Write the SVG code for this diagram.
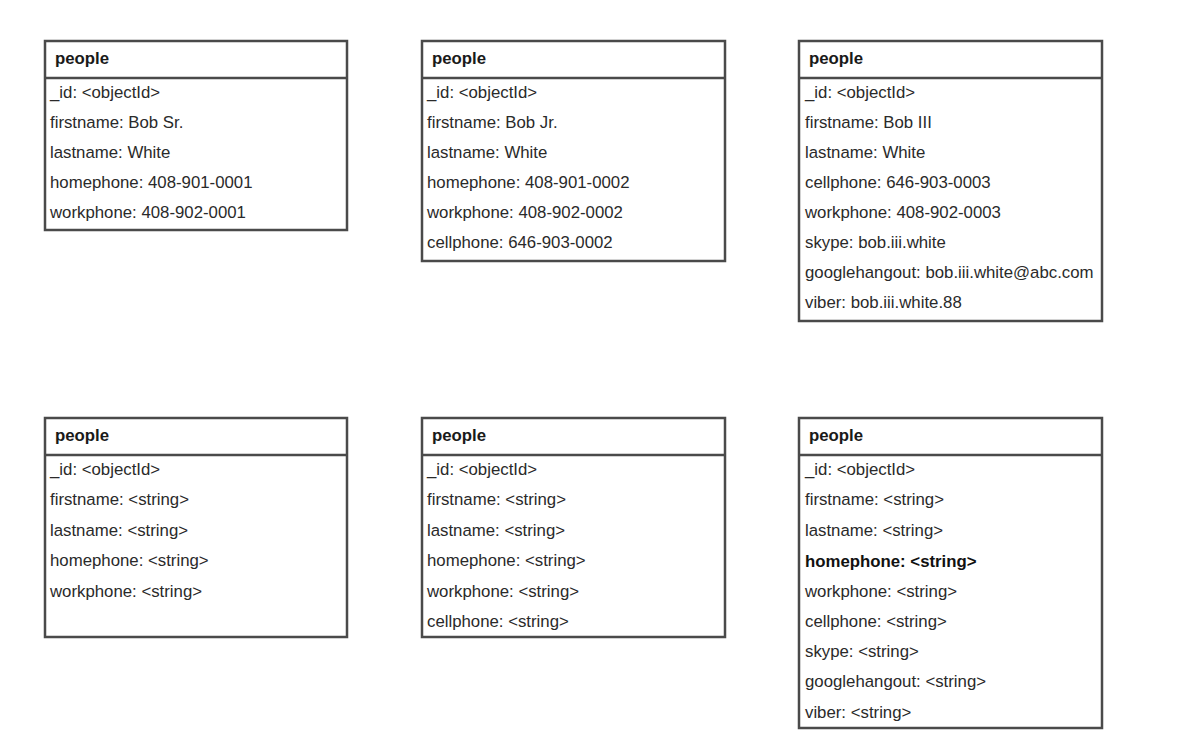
<svg xmlns="http://www.w3.org/2000/svg" width="1178" height="742" viewBox="0 0 1178 742">
<style>
.box{fill:#fff;stroke:#4a4a4a;stroke-width:2.5}
.div{stroke:#4a4a4a;stroke-width:2.5}
.h{font-family:"Liberation Sans",Arial,sans-serif;font-size:16.8px;font-weight:bold;fill:#1a1a1a}
.t{font-family:"Liberation Sans",Arial,sans-serif;font-size:16.8px;fill:#2a2a2a}
.b{font-weight:bold;fill:#111}
</style>
<rect width="1178" height="742" fill="#fff"/>
<g id="people1">
<rect class="box" x="45" y="41" width="302" height="189"/>
<line class="div" x1="45" y1="78" x2="347" y2="78"/>
<text class="h" x="55" y="64">people</text>
<text class="t" x="50" y="98">_id: &lt;objectId&gt;</text>
<text class="t" x="50" y="128">firstname: Bob Sr.</text>
<text class="t" x="50" y="158">lastname: White</text>
<text class="t" x="50" y="188">homephone: 408-901-0001</text>
<text class="t" x="50" y="218">workphone: 408-902-0001</text>
</g>
<g id="people2">
<rect class="box" x="422" y="41" width="303" height="220"/>
<line class="div" x1="422" y1="78" x2="725" y2="78"/>
<text class="h" x="432" y="64">people</text>
<text class="t" x="427" y="98">_id: &lt;objectId&gt;</text>
<text class="t" x="427" y="128">firstname: Bob Jr.</text>
<text class="t" x="427" y="158">lastname: White</text>
<text class="t" x="427" y="188">homephone: 408-901-0002</text>
<text class="t" x="427" y="218">workphone: 408-902-0002</text>
<text class="t" x="427" y="248">cellphone: 646-903-0002</text>
</g>
<g id="people3">
<rect class="box" x="799" y="41" width="303" height="280"/>
<line class="div" x1="799" y1="78" x2="1102" y2="78"/>
<text class="h" x="809" y="64">people</text>
<text class="t" x="805" y="98">_id: &lt;objectId&gt;</text>
<text class="t" x="805" y="128">firstname: Bob III</text>
<text class="t" x="805" y="158">lastname: White</text>
<text class="t" x="805" y="188">cellphone: 646-903-0003</text>
<text class="t" x="805" y="218">workphone: 408-902-0003</text>
<text class="t" x="805" y="248">skype: bob.iii.white</text>
<text class="t" x="805" y="278">googlehangout: bob.iii.white@abc.com</text>
<text class="t" x="805" y="308">viber: bob.iii.white.88</text>
</g>
<g id="people4">
<rect class="box" x="45" y="418" width="302" height="219"/>
<line class="div" x1="45" y1="455" x2="347" y2="455"/>
<text class="h" x="55" y="441">people</text>
<text class="t" x="50" y="475">_id: &lt;objectId&gt;</text>
<text class="t" x="50" y="505">firstname: &lt;string&gt;</text>
<text class="t" x="50" y="536">lastname: &lt;string&gt;</text>
<text class="t" x="50" y="566">homephone: &lt;string&gt;</text>
<text class="t" x="50" y="597">workphone: &lt;string&gt;</text>
</g>
<g id="people5">
<rect class="box" x="422" y="418" width="303" height="219"/>
<line class="div" x1="422" y1="455" x2="725" y2="455"/>
<text class="h" x="432" y="441">people</text>
<text class="t" x="427" y="475">_id: &lt;objectId&gt;</text>
<text class="t" x="427" y="505">firstname: &lt;string&gt;</text>
<text class="t" x="427" y="536">lastname: &lt;string&gt;</text>
<text class="t" x="427" y="566">homephone: &lt;string&gt;</text>
<text class="t" x="427" y="597">workphone: &lt;string&gt;</text>
<text class="t" x="427" y="627">cellphone: &lt;string&gt;</text>
</g>
<g id="people6">
<rect class="box" x="799" y="418" width="303" height="310"/>
<line class="div" x1="799" y1="455" x2="1102" y2="455"/>
<text class="h" x="809" y="441">people</text>
<text class="t" x="805" y="475">_id: &lt;objectId&gt;</text>
<text class="t" x="805" y="505">firstname: &lt;string&gt;</text>
<text class="t" x="805" y="536">lastname: &lt;string&gt;</text>
<text class="t b" x="805" y="567">homephone: &lt;string&gt;</text>
<text class="t" x="805" y="597">workphone: &lt;string&gt;</text>
<text class="t" x="805" y="627">cellphone: &lt;string&gt;</text>
<text class="t" x="805" y="657">skype: &lt;string&gt;</text>
<text class="t" x="805" y="687">googlehangout: &lt;string&gt;</text>
<text class="t" x="805" y="718">viber: &lt;string&gt;</text>
</g>
<g id="connectors"></g>
</svg>
